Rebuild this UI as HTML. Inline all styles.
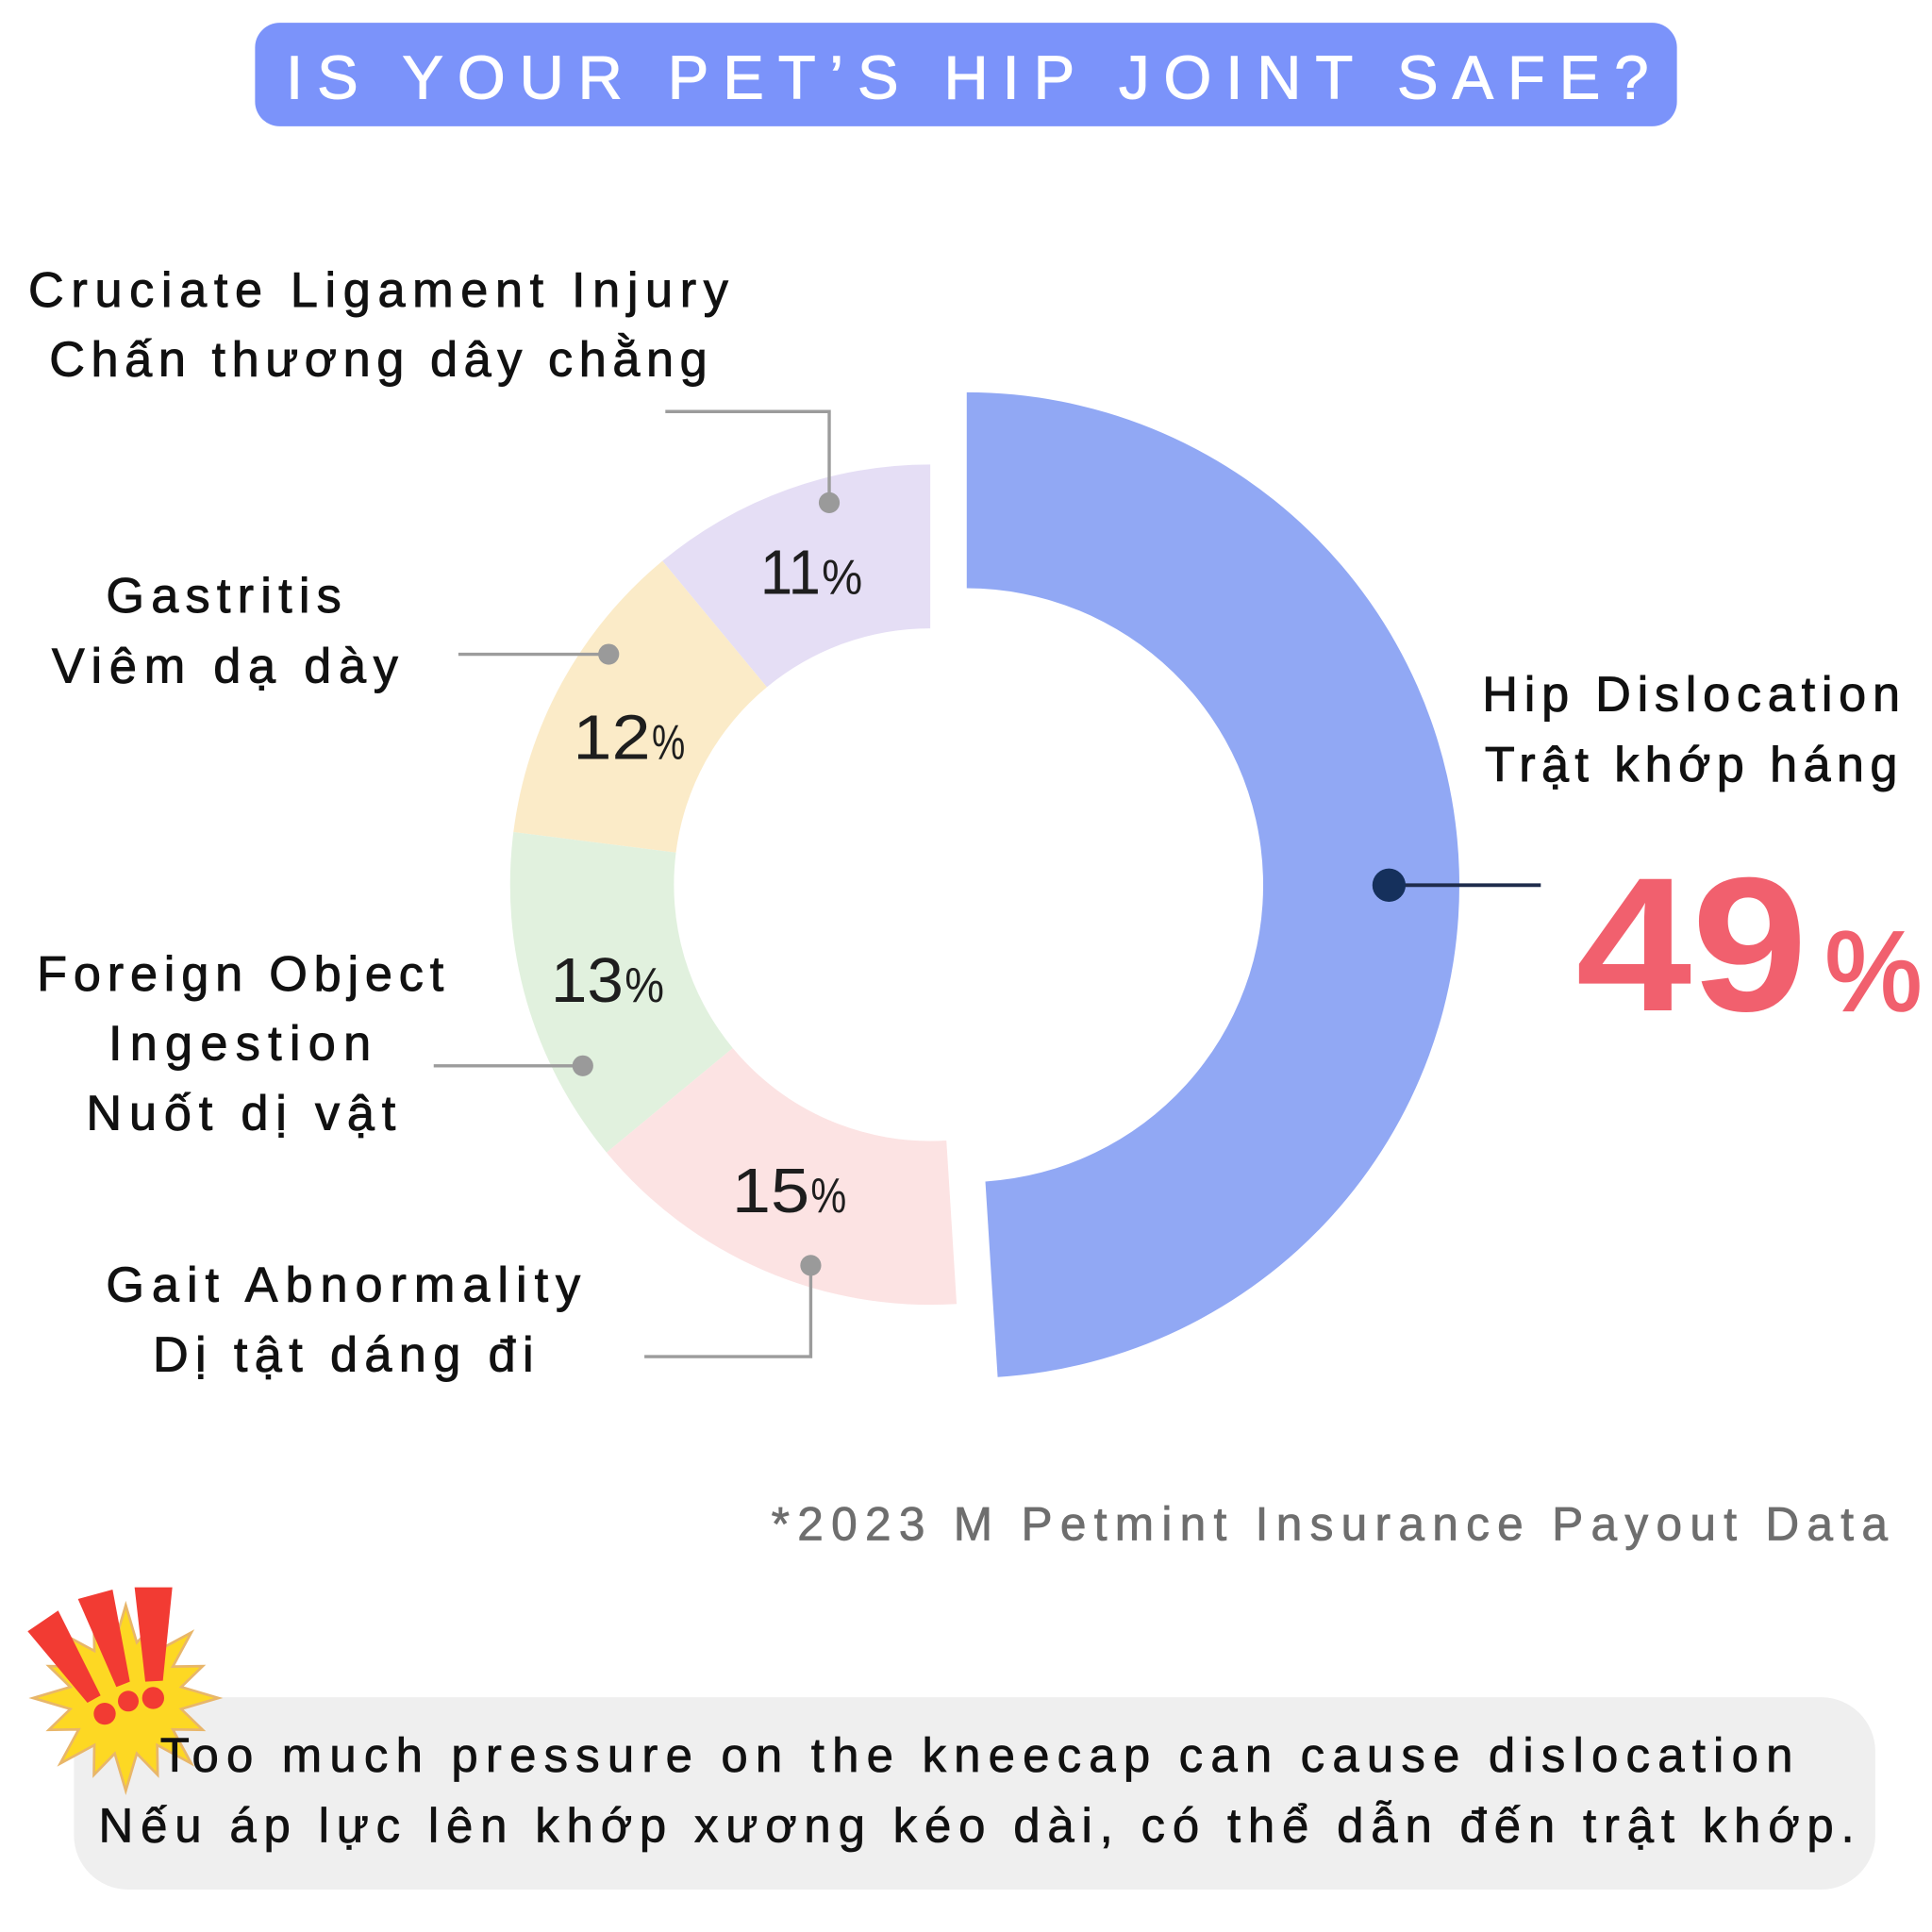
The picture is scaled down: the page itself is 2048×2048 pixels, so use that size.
<!DOCTYPE html>
<html>
<head>
<meta charset="utf-8">
<style>
  html,body{margin:0;padding:0;background:#fff;}
  svg{display:block;}
  text{font-family:"Liberation Sans","Noto Sans CJK SC",sans-serif;}
</style>
</head>
<body>
<svg width="2048" height="2048" viewBox="0 0 1568 1568" xmlns="http://www.w3.org/2000/svg">
  <rect x="0" y="0" width="1568" height="1568" fill="#ffffff"/>

  <!-- Title -->
  <rect x="207" y="18.5" width="1154" height="84" rx="20" ry="20" fill="#7B93FA"/>
  <text x="232" y="80" font-size="50" fill="#ffffff" stroke="#ffffff" stroke-width="0.8" textLength="1106" lengthAdjust="spacing">IS YOUR PET’S HIP JOINT SAFE?</text>

  <!-- Pastel segments (center 755,718  R=341 r=208) -->
  <path d="M755 377 A341 341 0 0 0 537.6 455.3 L622.4 557.7 A208 208 0 0 1 755 510 Z" fill="#E5DEF5"/>
  <path d="M537.6 455.3 A341 341 0 0 0 416.7 675.3 L548.6 691.9 A208 208 0 0 1 622.4 557.7 Z" fill="#FBEBC8"/>
  <path d="M416.7 675.3 A341 341 0 0 0 492.3 935.4 L594.7 850.6 A208 208 0 0 1 548.6 691.9 Z" fill="#E1F1DE"/>
  <path d="M492.3 935.4 A341 341 0 0 0 776.4 1058.3 L768.1 925.6 A208 208 0 0 1 594.7 850.6 Z" fill="#FCE3E3"/>

  <!-- Blue segment -->
  <path d="M784.6 318.4 A400 400 0 0 1 809.7 1117.6 L799.7 958.9 A241 241 0 0 0 784.6 477.4 Z" fill="#91A8F4"/>

  <!-- Percent labels -->
  <g fill="#1e1e1e">
    <text x="617" y="482" font-size="51" textLength="49" lengthAdjust="spacingAndGlyphs">11</text>
    <text x="667" y="482" font-size="40" textLength="33" lengthAdjust="spacingAndGlyphs">%</text>
    <text x="465" y="616" font-size="51" textLength="63" lengthAdjust="spacingAndGlyphs">12</text>
    <text x="529" y="616" font-size="40" textLength="27" lengthAdjust="spacingAndGlyphs">%</text>
    <text x="447" y="813" font-size="51" textLength="59" lengthAdjust="spacingAndGlyphs">13</text>
    <text x="507" y="813" font-size="40" textLength="32" lengthAdjust="spacingAndGlyphs">%</text>
    <text x="594" y="984" font-size="51" textLength="63" lengthAdjust="spacingAndGlyphs">15</text>
    <text x="658" y="984" font-size="40" textLength="29" lengthAdjust="spacingAndGlyphs">%</text>
  </g>

  <!-- Gray leader lines -->
  <g stroke="#9c9c9c" stroke-width="2.6" fill="none">
    <polyline points="540,334 673,334 673,408"/>
    <line x1="372" y1="531" x2="494" y2="531"/>
    <line x1="352" y1="865" x2="473" y2="865"/>
    <polyline points="658,1027 658,1101 523,1101"/>
  </g>
  <g fill="#9a9a9a">
    <circle cx="673" cy="408" r="8.5"/>
    <circle cx="494" cy="531" r="8.5"/>
    <circle cx="473" cy="865" r="8.5"/>
    <circle cx="658" cy="1027" r="8.5"/>
  </g>

  <!-- Hip leader -->
  <line x1="1127" y1="718.4" x2="1250.5" y2="718.4" stroke="#1f2c4c" stroke-width="3"/>
  <circle cx="1127.3" cy="718.4" r="13.5" fill="#15305C"/>

  <!-- Labels -->
  <g fill="#111111" stroke="#111111" stroke-width="0.7" font-size="40">
    <text x="23" y="249" textLength="568" lengthAdjust="spacing">Cruciate Ligament Injury</text>
    <text x="40" y="305" textLength="534" lengthAdjust="spacing">Chấn thương dây chằng</text>
    <text x="86" y="497" textLength="191" lengthAdjust="spacing">Gastritis</text>
    <text x="42" y="554" textLength="281" lengthAdjust="spacing">Viêm dạ dày</text>
    <text x="30" y="804" textLength="330" lengthAdjust="spacing">Foreign Object</text>
    <text x="88" y="860" textLength="213" lengthAdjust="spacing">Ingestion</text>
    <text x="70" y="917" textLength="251" lengthAdjust="spacing">Nuốt dị vật</text>
    <text x="86" y="1056" textLength="385" lengthAdjust="spacing">Gait Abnormality</text>
    <text x="124" y="1113" textLength="309" lengthAdjust="spacing">Dị tật dáng đi</text>
    <text x="1203" y="577" textLength="339" lengthAdjust="spacing">Hip Dislocation</text>
    <text x="1205" y="634" textLength="335" lengthAdjust="spacing">Trật khớp háng</text>
  </g>

  <!-- 49% -->
  <text x="1279" y="820" font-size="155" font-weight="bold" fill="#F1606E" textLength="188" lengthAdjust="spacingAndGlyphs">49</text>
  <text x="1481" y="820" font-size="92" fill="#F1606E" stroke="#F1606E" stroke-width="2" textLength="79" lengthAdjust="spacingAndGlyphs">%</text>

  <!-- Footnote -->
  <text x="626" y="1250" font-size="38" fill="#6e6e6e" stroke="#6e6e6e" stroke-width="0.6" textLength="906" lengthAdjust="spacing">*2023 M Petmint Insurance Payout Data</text>

  <!-- Bottom box -->
  <rect x="60" y="1377.5" width="1462" height="156" rx="44" ry="44" fill="#EFEFEF"/>

  <!-- Exclamation icon -->
  <g transform="translate(0,1270.9) scale(0.25521)">
    <polygon points="400,125 435.1,243.5 501.4,175.2 500,270.3 608.6,211.4 549.7,320 644.8,318.6 576.5,384.9 695,420 576.5,455.1 644.8,521.4 549.7,520 608.6,628.6 500,569.7 501.4,664.8 435.1,596.5 400,715 364.9,596.5 298.6,664.8 300,569.7 191.4,628.6 250.3,520 155.2,521.4 223.5,455.1 105,420 223.5,384.9 155.2,318.6 250.3,320 191.4,211.4 300,270.3 298.6,175.2 364.9,243.5" fill="#FDD823" stroke="#E8B66A" stroke-width="8" stroke-linejoin="miter"/>
    <polygon points="88,208 185,142 320,412 278,435" fill="#F23B33"/>
    <polygon points="248,105 358,75 413,368 370,385" fill="#F23B33"/>
    <polygon points="428,68 548,68 518,365 462,368" fill="#F23B33"/>
    <circle cx="333" cy="470" r="35" fill="#F23B33"/>
    <circle cx="408" cy="430" r="33" fill="#F23B33"/>
    <circle cx="487" cy="420" r="35" fill="#F23B33"/>
  </g>

  <!-- Bottom text -->
  <g fill="#111111" stroke="#111111" stroke-width="0.6" font-size="39">
    <text x="130" y="1438" textLength="1325" lengthAdjust="spacing">Too much pressure on the kneecap can cause dislocation</text>
    <text x="80" y="1495" textLength="1425" lengthAdjust="spacing">Nếu áp lực lên khớp xương kéo dài, có thể dẫn đến trật khớp.</text>
  </g>
</svg>
</body>
</html>
